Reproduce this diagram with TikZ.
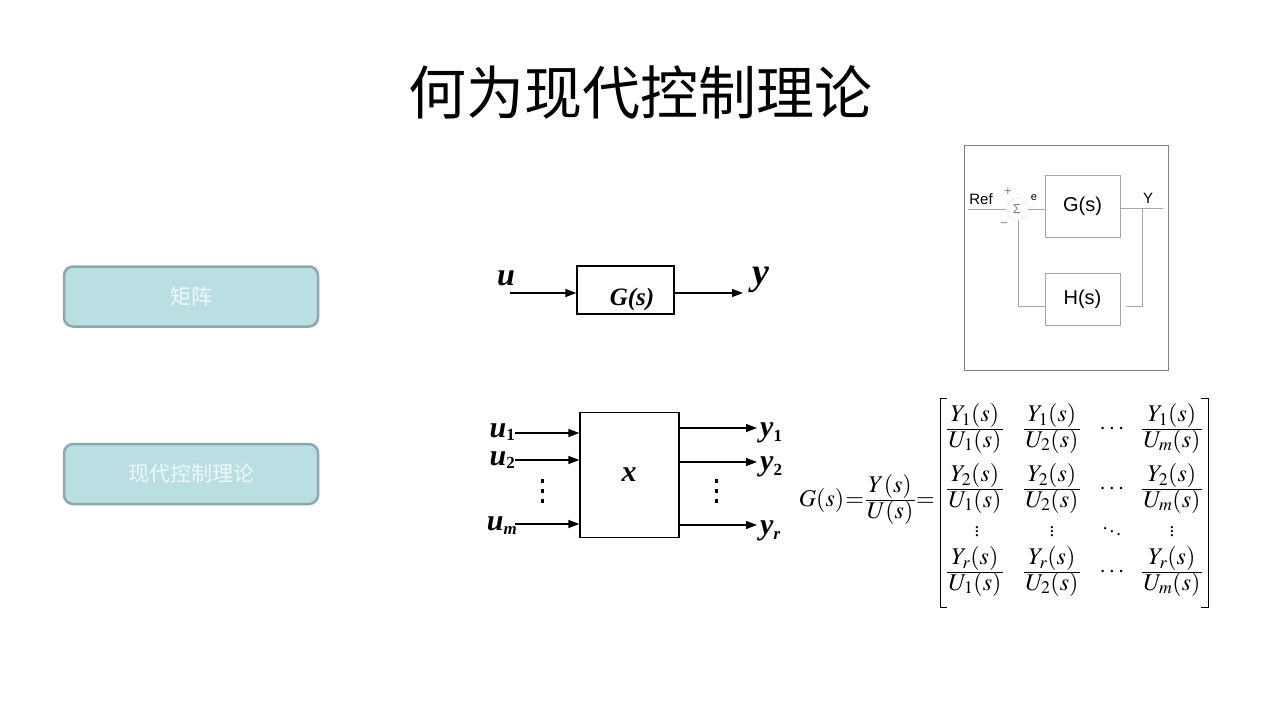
\documentclass[tikz,border=0pt]{standalone}
\usepackage{mathptmx}
\usepackage[no-math]{fontspec}
\setmainfont{Liberation Serif}
\newfontfamily\cjk{Noto Sans CJK SC}
\newfontfamily\arial{Liberation Sans}
\usetikzlibrary{arrows.meta}
\definecolor{btnfill}{HTML}{BADFE3}
\definecolor{btnline}{HTML}{8BA9AB}
\definecolor{btntext}{HTML}{EEF8F9}
\definecolor{fbline}{HTML}{A6A6A6}
\definecolor{fbframe}{HTML}{808080}
\newcommand{\fsz}[1]{\fontsize{#1}{#1}\selectfont}
\newcommand{\bsub}[2][-3pt]{\raisebox{#1}{\fsz{17}\bfseries #2}}
\newcommand{\tf}[2]{{\renewcommand{\arraystretch}{1.0}\setlength{\tabcolsep}{1.5pt}%
  \begin{tabular}{c}$#1$\\\hline$#2$\end{tabular}}}
\tikzset{
 btn/.style={draw=btnline, line width=2.5pt, fill=btnfill, rounded corners=9pt,
   minimum width=254pt, minimum height=60pt, text=btntext, font=\cjk\fsz{21}},
 blk/.style={draw, line width=1.3pt, inner sep=0pt},
 sig/.style={line width=1.3pt, -{Triangle[length=11pt,width=8pt]}},
 lbl/.style={font=\fsz{30}\bfseries\itshape, inner sep=0pt},
 fbbox/.style={draw=fbline, line width=0.8pt, font=\arial\fsz{20}},
 fbl/.style={draw=fbline, line width=0.8pt},
 fbtxt/.style={font=\arial\fsz{15}, inner sep=0pt},
 mtx/.style={font=\fsz{24}, inner sep=0pt},
 vd/.style={font=\fsz{19}, inner sep=0pt},
 brk/.style={line width=1pt},
}
\begin{document}
\begin{tikzpicture}[x=1pt,y=-1pt]
\useasboundingbox (0,0) rectangle (1280,720);
\fill[white] (0,0) rectangle (1280,720);

% title
\node[font=\cjk\fsz{58}] (title) at (640,92) {何为现代控制理论};

% left buttons
\node[btn] (b1) at (191,296.5) {矩阵};
\node[btn] (b2) at (191,474) {现代控制理论};

% SISO block
\node[blk, minimum width=97pt, minimum height=48pt] (G) at (625.5,290) {};
\node[font=\fsz{25}\bfseries\itshape, anchor=base] (Gt) at (632,305) {G(s)};
\coordinate (uin) at (510,293);
\coordinate (yout) at (743,293);
\draw[sig] (uin) -- (G.west |- uin);
\draw[sig] (G.east |- yout) -- (yout);
\node[lbl, font=\fsz{32}\bfseries\itshape, anchor=base] (u) at (506,285) {u};
\node[lbl, font=\fsz{38}\bfseries\itshape, anchor=base] (y) at (761,284) {y};

% MIMO block
\node[blk, minimum width=99pt, minimum height=125pt] (X) at (629.5,475) {};
\node[lbl, anchor=base] (xt) at (629,481) {x};
\coordinate (i1) at (515,433);
\coordinate (i2) at (515,460);
\coordinate (im) at (515,524);
\coordinate (o1) at (757,428);
\coordinate (o2) at (757,462);
\coordinate (or) at (757,525);
\draw[sig] (i1) -- (X.west |- i1);
\draw[sig] (i2) -- (X.west |- i2);
\draw[sig] (im) -- (X.west |- im);
\draw[sig] (X.east |- o1) -- (o1);
\draw[sig] (X.east |- o2) -- (o2);
\draw[sig] (X.east |- or) -- (or);
\node[lbl, anchor=base east] (u1) at (515,437) {u\bsub{\upshape 1}};
\node[lbl, anchor=base east] (u2) at (515,465) {u\bsub{\upshape 2}};
\node[lbl, anchor=base east] (um) at (517,530) {u\bsub[-4pt]{\itshape m}};
\node[lbl, anchor=base west] (y1) at (760,436) {y\bsub[-5pt]{\upshape 1}};
\node[lbl, anchor=base west] (y2) at (760,470) {y\bsub[-5pt]{\upshape 2}};
\node[lbl, anchor=base west] (yr) at (760,534) {y\bsub[-5pt]{\itshape r}};
\foreach \yy in {479,489,499}{
  \fill (540.5,\yy) rectangle +(3.5,3.5);
  \fill (714.5,\yy) rectangle +(3.5,3.5);
}

% feedback diagram
\node[draw=fbframe, line width=1pt, minimum width=204pt, minimum height=225pt] (frame) at (1066,257.5) {};
\node[circle, draw=fbline, densely dotted, minimum size=21pt, inner sep=0pt] (sum) at (1017,209) {};
\node[font=\arial\fsz{13}, text=fbframe, inner sep=0pt] (sig) at (sum) {Σ};
\node[fbbox, minimum width=75pt, minimum height=62pt] (Gf) at (1082.5,206) {G(s)};
\node[fbbox, minimum width=75pt, minimum height=52pt] (Hf) at (1082.5,299) {H(s)};
\coordinate (ref) at (968,209);
\coordinate (yend) at (1163,208);
\coordinate (tap) at (1142,208);
\coordinate (tapb) at (1142,306);
\coordinate (hout) at (1126,306);
\coordinate (fbc) at (1018,306);
\draw[fbl] (ref) -- (sum.west);
\draw[fbl] (sum.east) -- (sum.east -| Gf.west);
\draw[fbl] (Gf.east |- yend) -- (yend);
\draw[fbl] (tap) -- (tapb) -- (hout);
\draw[fbl] (Hf.west |- fbc) -- (fbc) -- (fbc |- sum.south);
\node[fbtxt] (reft) at (981,199) {Ref};
\node[fbtxt] (yt) at (1148,198) {Y};
\node[fbtxt, font=\arial\fsz{11}] (et) at (1034,198) {e};
\node[fbtxt, font=\arial\fsz{13}, text=fbframe] (plus) at (1008,192) {+};
\node[fbtxt, font=\arial\fsz{13}, text=fbframe] (minus) at (1004,225) {−};

% transfer matrix
\node[mtx, anchor=east] (lhs) at (935,500) {${G(s)}\mkern1mu{=}\mkern1mu$\tf{Y(s)}{U(s)}$\mkern1mu{=}$};
\node[mtx] (m11) at (975,429) {\tf{Y_1(s)}{U_1(s)}};
\node[mtx] (m12) at (1052,429) {\tf{Y_1(s)}{U_2(s)}};
\node[mtx] (m13) at (1112,429) {$\cdots$};
\node[mtx] (m14) at (1172,429) {\tf{Y_1(s)}{U_m(s)}};
\node[mtx] (m21) at (975,489) {\tf{Y_2(s)}{U_1(s)}};
\node[mtx] (m22) at (1052,489) {\tf{Y_2(s)}{U_2(s)}};
\node[mtx] (m23) at (1112,489) {$\cdots$};
\node[mtx] (m24) at (1172,489) {\tf{Y_2(s)}{U_m(s)}};
\node[vd] (m31) at (977,529) {$\vdots$};
\node[vd] (m32) at (1052,529) {$\vdots$};
\node[vd] (m33) at (1112,529) {$\ddots$};
\node[vd] (m34) at (1172,529) {$\vdots$};
\node[mtx] (m41) at (975,572) {\tf{Y_r(s)}{U_1(s)}};
\node[mtx] (m42) at (1052,572) {\tf{Y_r(s)}{U_2(s)}};
\node[mtx] (m43) at (1112,572) {$\cdots$};
\node[mtx] (m44) at (1172,572) {\tf{Y_r(s)}{U_m(s)}};
\draw[brk] (947,398) -- (940,398) -- (940,607) -- (947,607);
\draw[brk] (1201,398) -- (1208,398) -- (1208,607) -- (1201,607);
\end{tikzpicture}
\end{document}
